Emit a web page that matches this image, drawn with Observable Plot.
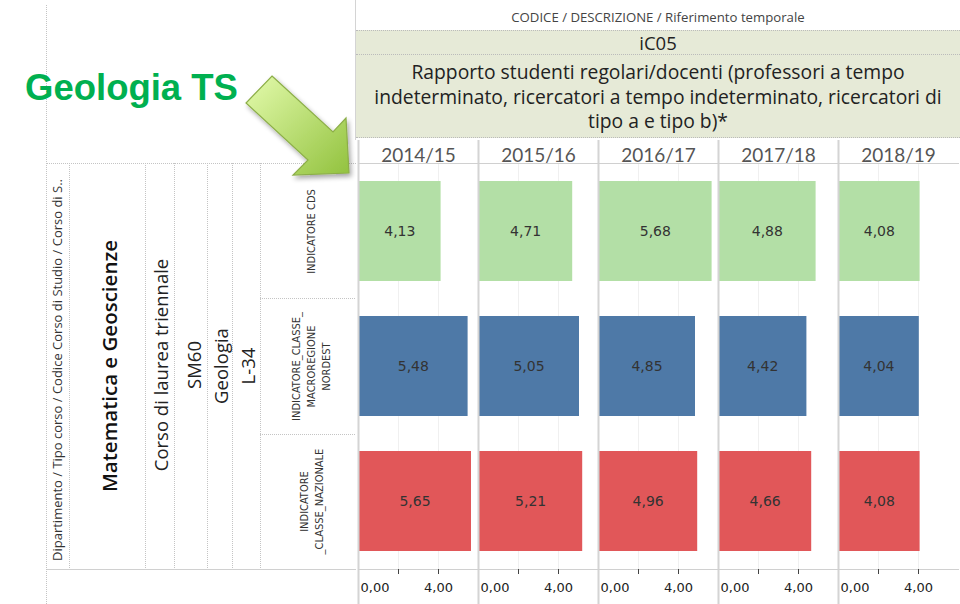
<!DOCTYPE html>
<html>
<head>
<meta charset="utf-8">
<script src="https://cdn.jsdelivr.net/npm/d3@7"></script>
<script src="https://cdn.jsdelivr.net/npm/@observablehq/plot@0.6"></script>
<style>
  html, body { margin: 0; padding: 0; background: #fff; }
  #wrap { position: relative; width: 960px; height: 604px; overflow: hidden; font-family: "Open Sans", Lato, sans-serif; }
  #chart { position: absolute; left: 0; top: 0; }
  .hdr { position: absolute; text-align: center; color: #333; }
  svg.overlay { position: absolute; left: 0; top: 0; pointer-events: none; }
</style>
</head>
<body>
<div id="wrap">
  <div id="chart"></div>
  <div class="hdr" style="left:356px; top:9px; width:604px; font-size:13.2px; line-height:16px; color:#444;">CODICE / DESCRIZIONE / Riferimento temporale</div>
  <div class="hdr" style="left:356px; top:30px; width:604px; height:108px; background:#e6ead7; border-top:1px dotted #bbb; border-bottom:1px dotted #bbb; box-sizing:border-box;">
    <div style="height:23px; line-height:24px; font-size:18.5px; border-bottom:1px dotted #bbb; color:#222;">iC05</div>
    <div style="padding-top:5px; line-height:24.5px; font-size:19.3px; color:#222; white-space:nowrap;">Rapporto studenti regolari/docenti (professori a tempo<br>indeterminato, ricercatori a tempo indeterminato, ricercatori di<br>tipo a e tipo b)*</div>
  </div>
</div>
<script>
// ---- data ----
const years = ["2014/15", "2015/16", "2016/17", "2017/18", "2018/19"];
const indicators = ["INDICATORE CDS", "INDICATORE_CLASSE_MACROREGIONE NORDEST", "INDICATORE_CLASSE_NAZIONALE"];
const rowLabels = ["INDICATORE CDS", "INDICATORE_CLASSE_\nMACROREGIONE\nNORDEST", "INDICATORE\n_CLASSE_NAZIONALE"];
const cdsValues = [4.13, 4.71, 5.68, 4.88, 4.08];
const nordestValues = [5.48, 5.05, 4.85, 4.42, 4.04];
const nazionaleValues = [5.65, 5.21, 4.96, 4.66, 4.08];
const barColors = ["#b3dfa6", "#4e79a7", "#e15759"];
const xTicks = [0, 4];
const minorTicks = [2, 4];

const seriesValues = [cdsValues, nordestValues, nazionaleValues];
const data = years.flatMap((yr, i) => indicators.map((ind, k) => ({year: yr, ind, value: seriesValues[k][i]})));
const labelData = indicators.map((ind, k) => ({year: years[0], ind, label: rowLabels[k]}));
const fmt = v => v.toFixed(2).replace(".", ",");

const chart = Plot.plot({
  width: 960,
  height: 604,
  marginLeft: 356,
  marginRight: 0,
  marginTop: 163,
  marginBottom: 35,
  style: {fontFamily: "'DejaVu Sans', sans-serif", fontSize: "12px", color: "#333", background: "transparent", overflow: "visible"},
  fx: {domain: years, padding: 0, label: null},
  x: {domain: [0, 6], label: null},
  y: {domain: indicators, paddingInner: 0.26, paddingOuter: 0.13, label: null, axis: null},
  color: {domain: indicators, range: barColors},
  marks: [
    Plot.gridX(minorTicks, {stroke: "#000", strokeOpacity: 0.06}),
    Plot.barX(data, {fx: "year", y: "ind", x: "value", fill: "ind"}),
    Plot.text(data, {fx: "year", y: "ind", x: d => d.value / 2, text: d => fmt(d.value), fill: "#333", fontSize: 14}),
    Plot.ruleX([0], {stroke: "#d4d4d4", strokeWidth: 2, insetTop: -23, insetBottom: -40}),
    Plot.frame({anchor: "bottom", stroke: "#d0d0d0"}),
    Plot.frame({anchor: "top", stroke: "#d0d0d0"}),
    Plot.axisX(minorTicks, {tickSize: 5, tickFormat: () => "", stroke: "#444"}),
    Plot.axisX([xTicks[0]], {tickSize: 0, tickPadding: 13, textAnchor: "start", dx: 2, tickFormat: fmt, fill: "#222", fontSize: 13}),
    Plot.axisX([xTicks[1]], {tickSize: 0, tickPadding: 13, tickFormat: fmt, fill: "#222", fontSize: 13}),
    Plot.axisFx({anchor: "top", tickSize: 0, tickPadding: 2, fontSize: 19, fontFamily: "Lato", fill: "#555"}),
    Plot.text(labelData, {fx: "year", y: "ind", text: "label", frameAnchor: "left", textAnchor: "middle", dx: -48, rotate: -90,
      fontSize: 11, fontFamily: "'DejaVu Sans Condensed', 'DejaVu Sans'", lineHeight: 1.36, fill: "#333"})
  ]
});
document.getElementById("chart").appendChild(chart);

// ---- decorative overlay: left header table, title, arrow ----
const ns = "http://www.w3.org/2000/svg";
const ov = document.createElementNS(ns, "svg");
ov.setAttribute("class", "overlay");
ov.setAttribute("width", 960);
ov.setAttribute("height", 604);
ov.innerHTML = `
  <defs>
    <linearGradient id="ag" x1="0" y1="0" x2="1" y2="1">
      <stop offset="0" stop-color="#e4fbad"/>
      <stop offset="1" stop-color="#92c23e"/>
    </linearGradient>
    <filter id="sh" x="-20%" y="-20%" width="140%" height="140%">
      <feGaussianBlur in="SourceAlpha" stdDeviation="2.5"/>
      <feOffset dx="2" dy="3" result="b"/>
      <feComponentTransfer><feFuncA type="linear" slope="0.35"/></feComponentTransfer>
      <feMerge><feMergeNode/><feMergeNode in="SourceGraphic"/></feMerge>
    </filter>
  </defs>
  <g stroke="#c4c4c4" stroke-dasharray="1,1" fill="none">
    <line x1="46.5" y1="5" x2="46.5" y2="604"/>
    <line x1="69.5" y1="163" x2="69.5" y2="570"/>
    <line x1="145.5" y1="163" x2="145.5" y2="570"/>
    <line x1="174.5" y1="163" x2="174.5" y2="570"/>
    <line x1="207.5" y1="163" x2="207.5" y2="570"/>
    <line x1="232.5" y1="163" x2="232.5" y2="570"/>
    <line x1="260.5" y1="163" x2="260.5" y2="570"/>
    <line x1="47" y1="163.5" x2="356" y2="163.5"/>
    <line x1="260" y1="298.5" x2="356" y2="298.5"/>
    <line x1="260" y1="434.5" x2="356" y2="434.5"/>
  </g>
  <line x1="47" y1="569.5" x2="356" y2="569.5" stroke="#d0d0d0"/>
  <line x1="355.5" y1="0" x2="355.5" y2="140" stroke="#d4d4d4"/>
  <g font-family="'Open Sans', Lato, sans-serif" text-anchor="middle" dominant-baseline="central">
    <text transform="translate(57,370) rotate(-90)" font-size="13" fill="#333">Dipartimento / Tipo corso / Codice Corso di Studio / Corso di S..</text>
    <text transform="translate(109,366) rotate(-90)" font-size="20.5" font-weight="600" fill="#111">Matematica e Geoscienze</text>
    <text transform="translate(160,365) rotate(-90)" font-size="18.5" fill="#222">Corso di laurea triennale</text>
    <text transform="translate(193,365) rotate(-90)" font-size="18.5" fill="#222">SM60</text>
    <text transform="translate(220,366) rotate(-90)" font-size="18.5" fill="#222">Geologia</text>
    <text transform="translate(247,366) rotate(-90)" font-size="18.5" fill="#222">L-34</text>
  </g>
  <text x="25" y="100" font-family="'Liberation Sans', Arial, sans-serif" font-weight="700" font-size="36.5" fill="#00b050">Geologia TS</text>
  <polygon points="272,76 333,132 346,118 349,173 293,175 308,160 246,103" fill="url(#ag)" stroke="#8cae48" stroke-width="1.2" filter="url(#sh)"/>
`;
document.getElementById("wrap").appendChild(ov);
</script>
</body>
</html>
